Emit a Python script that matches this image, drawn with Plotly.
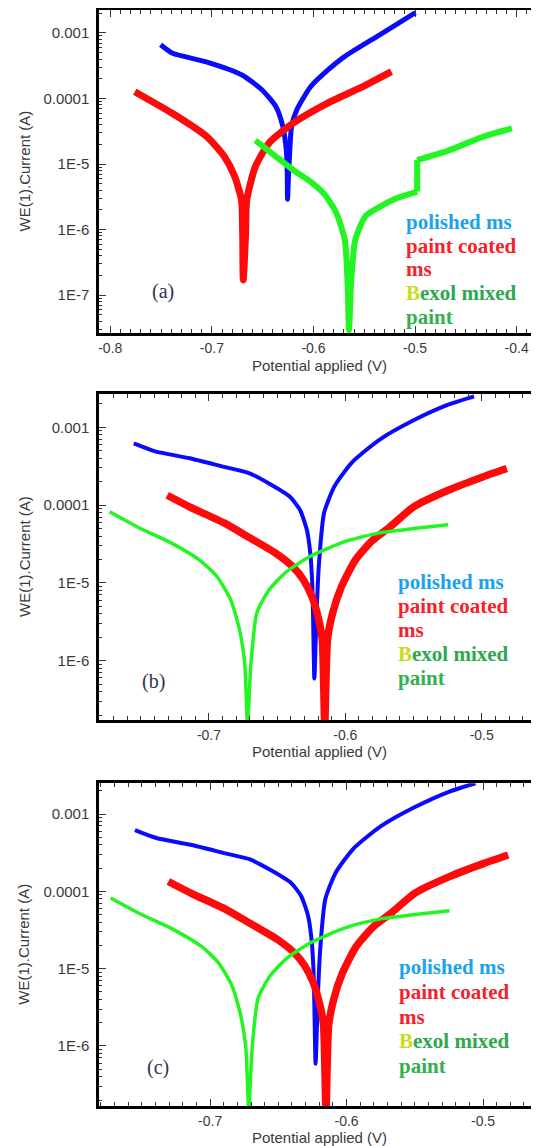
import plotly.graph_objects as go

# ---------------- data (potential V, current A) ----------------
# panel (a)
a_blue_x = [-0.7505, -0.7386, -0.7047, -0.6708, -0.6505, -0.6369, -0.6301, -0.6267, -0.6258, -0.6255,
            -0.6245, -0.6233, -0.6216, -0.6166, -0.603, -0.586, -0.5691, -0.5352, -0.4996]
a_blue_y = [6.6e-4, 4.9e-4, 3.6e-4, 2.3e-4, 1.35e-4, 7.5e-5, 3.7e-5, 1.6e-5, 7.2e-6, 2.9e-6,
            7.0e-6, 1.6e-5, 3.7e-5, 6.6e-5, 1.5e-4, 2.7e-4, 4.4e-4, 9.3e-4, 2.04e-3]

a_red_x = [-0.7759, -0.7386, -0.7047, -0.6878, -0.6776, -0.6708, -0.6697, -0.6691,
           -0.6668, -0.6657, -0.6572, -0.6437, -0.62, -0.586, -0.5521, -0.5233]
a_red_y = [1.27e-4, 5.9e-5, 2.6e-5, 1.3e-5, 6.5e-6, 2.8e-6, 8.7e-7, 1.7e-7,
           8.7e-7, 2.8e-6, 9.1e-6, 2.1e-5, 4.2e-5, 8.5e-5, 1.5e-4, 2.57e-4]

a_green_x = [-0.6572, -0.6369, -0.62, -0.603, -0.5894, -0.5776, -0.5691, -0.5664, -0.565,
             -0.563, -0.5589, -0.5488, -0.5352, -0.5182, -0.4979, -0.4979, -0.4673, -0.4334, -0.4047]
a_green_y = [2.3e-5, 1.3e-5, 8.1e-6, 5.4e-6, 3.5e-6, 1.8e-6, 6.9e-7, 1.5e-7, 2.9e-8,
             1.5e-7, 6.9e-7, 1.6e-6, 2.2e-6, 3.0e-6, 3.8e-6, 1.15e-5, 1.6e-5, 2.6e-5, 3.5e-5]

# panels (b) and (c) (same measurement)
b_blue_x = [-0.7551, -0.7394, -0.7142, -0.6889, -0.6712, -0.656, -0.6408, -0.6333, -0.6282, -0.6257,
            -0.6244, -0.6237, -0.6227, -0.6211, -0.6193, -0.6156, -0.608, -0.5954, -0.5751, -0.5499,
            -0.5246, -0.5056]
b_blue_y = [6.2e-4, 4.9e-4, 4.0e-4, 3.1e-4, 2.6e-4, 1.9e-4, 1.29e-4, 8.7e-5, 4.8e-5, 2.4e-5,
            1.1e-5, 4.1e-6, 5.9e-7, 4.1e-6, 1.8e-5, 7.9e-5, 1.74e-4, 3.5e-4, 6.9e-4, 1.23e-3,
            1.95e-3, 2.5e-3]

b_red_x = [-0.7306, -0.7142, -0.6889, -0.6712, -0.6509, -0.6383, -0.6308, -0.6244, -0.6194, -0.6169,
           -0.6151, -0.6131, -0.6093, -0.6029, -0.5928, -0.5802, -0.5675, -0.5499, -0.5246, -0.4993,
           -0.4816]
b_red_y = [1.34e-4, 9.5e-5, 5.9e-5, 3.9e-5, 2.4e-5, 1.6e-5, 1.1e-5, 6.6e-6, 3.3e-6, 1.86e-6,
           1.5e-7, 1.86e-6, 4.1e-6, 8.9e-6, 1.95e-5, 3.5e-5, 5.2e-5, 9.5e-5, 1.55e-4, 2.3e-4,
           2.95e-4]

b_green_x = [-0.7728, -0.7521, -0.7268, -0.7066, -0.694, -0.6839, -0.6775, -0.6738, -0.6717,
             -0.6692, -0.6649, -0.656, -0.6434, -0.6257, -0.6004, -0.5751, -0.5499, -0.5246]
b_green_y = [8.2e-5, 5.2e-5, 3.2e-5, 1.95e-5, 1.2e-5, 6.0e-6, 2.45e-6, 9.3e-7, 1.5e-7,
             9.3e-7, 4.1e-6, 8.1e-6, 1.38e-5, 2.2e-5, 3.4e-5, 4.4e-5, 5.0e-5, 5.6e-5]

c_blue_x, c_blue_y = b_blue_x, b_blue_y
c_red_x, c_red_y = b_red_x, b_red_y
c_green_x, c_green_y = b_green_x, b_green_y

# tick labels
a_xticks = [-0.8, -0.7, -0.6, -0.5, -0.4]
a_xticktext = ["-0.8", "-0.7", "-0.6", "-0.5", "-0.4"]
bc_xticks = [-0.7, -0.6, -0.5]
bc_xticktext = ["-0.7", "-0.6", "-0.5"]
a_yticks = [1e-3, 1e-4, 1e-5, 1e-6, 1e-7]
a_yticktext = ["0.001", "0.0001", "1E-5", "1E-6", "1E-7"]
bc_yticks = [1e-3, 1e-4, 1e-5, 1e-6]
bc_yticktext = ["0.001", "0.0001", "1E-5", "1E-6"]

panel_letters = ["(a)", "(b)", "(c)"]
x_title = "Potential applied (V)"
y_title = "WE(1).Current (A)"

# ---------------- styling ----------------
# page body has an 8px margin: figure is placed at (8, 8) in the window
OFF = 8
W, H = 539 - OFF, 1146 - OFF
BLUE, RED, GREEN = "#0a0aff", "#ff0a0a", "#22f522"
TXT = "#3a3a3a"

panels = [
    dict(series=[(a_blue_x, a_blue_y, BLUE, 5), (a_red_x, a_red_y, RED, 7), (a_green_x, a_green_y, GREEN, 6)],
         top=10, bottom=333, xr=[-0.8108, -0.378], yr=[-7.58, -2.649],
         xt=a_xticks, xtt=a_xticktext, yt=a_yticks, ytt=a_yticktext,
         letter=(163, 291), leg=(404, 221.7, 23.8), xtitle_dy=32),
    dict(series=[(b_blue_x, b_blue_y, BLUE, 4), (b_red_x, b_red_y, RED, 7.5), (b_green_x, b_green_y, GREEN, 3.5)],
         top=394, bottom=720, xr=[-0.7804, -0.458], yr=[-6.762, -2.572],
         xt=bc_xticks, xtt=bc_xticktext, yt=bc_yticks, ytt=bc_yticktext,
         letter=(153, 682), leg=(396, 581.5, 24.2), xtitle_dy=31),
    dict(series=[(c_blue_x, c_blue_y, BLUE, 4), (c_red_x, c_red_y, RED, 7.5), (c_green_x, c_green_y, GREEN, 3.5)],
         top=783.3, bottom=1106, xr=[-0.7812, -0.459], yr=[-6.776, -2.603],
         xt=bc_xticks, xtt=bc_xticktext, yt=bc_yticks, ytt=bc_yticktext,
         letter=(158, 1067), leg=(397, 967, 24.8), xtitle_dy=31),
]

LEFT = 99.3

fig = go.Figure()
annotations = []


def py(p):
    return 1 - (p - OFF) / H


def px(p):
    return (p - OFF) / W


def segments(xs, ys):
    """Split a curve where the potential repeats (vertical step), so steps stay straight."""
    segs, start = [], 0
    for j in range(1, len(xs)):
        if xs[j] == xs[j - 1]:
            segs.append((xs[start:j], ys[start:j], "spline"))
            segs.append((xs[j - 1:j + 1], ys[j - 1:j + 1], "linear"))
            start = j
    segs.append((xs[start:], ys[start:], "spline"))
    return segs


FONT_SANS = "Liberation Sans, Arial"
FONT_SERIF = "Liberation Serif, Times New Roman"

for i, p in enumerate(panels):
    n = "" if i == 0 else str(i + 1)
    xa, ya = "x" + n, "y" + n
    for xs, ys, col, lw in p["series"]:
        for sx, sy, shp in segments(xs, ys):
            fig.add_trace(go.Scatter(x=sx, y=sy, mode="lines", xaxis=xa, yaxis=ya,
                                     line=dict(color=col, width=lw, shape=shp, smoothing=0.6),
                                     showlegend=False, hoverinfo="skip"))
    minor_y = [k * 10.0 ** e for e in range(-9, -1) for k in range(2, 10)]
    fig.update_layout(**{
        "xaxis" + n: dict(domain=[px(LEFT), 1.0], range=p["xr"], anchor=ya,
                          showline=True, linewidth=3, linecolor="black", mirror="ticks",
                          ticks="inside", ticklen=7, tickwidth=1.3, tickcolor="#333",
                          tickvals=p["xt"], ticktext=p["xtt"],
                          minor=dict(ticks="inside", ticklen=4, dtick=0.01, tick0=-0.8,
                                     tickcolor="#333", tickwidth=1, showgrid=False),
                          showgrid=False, zeroline=False,
                          tickfont=dict(family=FONT_SANS, size=14, color=TXT)),
        "yaxis" + n: dict(domain=[py(p["bottom"]), py(p["top"])], type="log", range=p["yr"],
                          anchor=xa, showline=True, linewidth=3, linecolor="black", mirror=False,
                          ticks="inside", ticklen=7, tickwidth=1.3, tickcolor="#333",
                          tickvals=p["yt"], ticktext=p["ytt"],
                          minor=dict(ticks="inside", ticklen=3, tickvals=minor_y,
                                     tickcolor="#333", tickwidth=1, showgrid=False),
                          showgrid=False, zeroline=False, ticklabelstandoff=4,
                          tickfont=dict(family=FONT_SANS, size=15, color=TXT)),
    })
    # axis titles
    annotations.append(dict(text=x_title, x=px((LEFT + 539) / 2), y=py(p["bottom"] + p["xtitle_dy"]),
                            xref="paper", yref="paper", showarrow=False,
                            xanchor="center", yanchor="middle",
                            font=dict(family=FONT_SANS, size=15, color=TXT)))
    annotations.append(dict(text=y_title, x=px(24), y=py((p["top"] + p["bottom"]) / 2),
                            xref="paper", yref="paper", showarrow=False, textangle=-90,
                            xanchor="center", yanchor="middle",
                            font=dict(family=FONT_SANS, size=15, color=TXT)))
    # panel letter
    lx, ly = p["letter"]
    annotations.append(dict(text=panel_letters[i], x=px(lx), y=py(ly), xref="paper", yref="paper",
                            showarrow=False, xanchor="center", yanchor="middle",
                            font=dict(family=FONT_SERIF, size=20, color="#2b3550")))
    # legend text
    gx, gy, gs = p["leg"]
    lines = [
        ("<b>polished ms</b>", "#1aa3ec"),
        ("<b>paint coated</b>", "#f5222d"),
        ("<b>ms</b>", "#f5222d"),
        ("<b><span style='color:#c9dc1c'>B</span>exol mixed</b>", "#2ea84e"),
        ("<b>paint</b>", "#33b04c"),
    ]
    for k, (t, c) in enumerate(lines):
        annotations.append(dict(text=t, x=px(gx), y=py(gy + k * gs), xref="paper", yref="paper",
                                showarrow=False, xanchor="left", yanchor="middle",
                                font=dict(family=FONT_SERIF, size=21, color=c)))

fig.update_layout(width=W, height=H, margin=dict(l=0, r=0, t=0, b=0),
                  paper_bgcolor="white", plot_bgcolor="white",
                  annotations=annotations, showlegend=False)

fig.write_html("out.html")
